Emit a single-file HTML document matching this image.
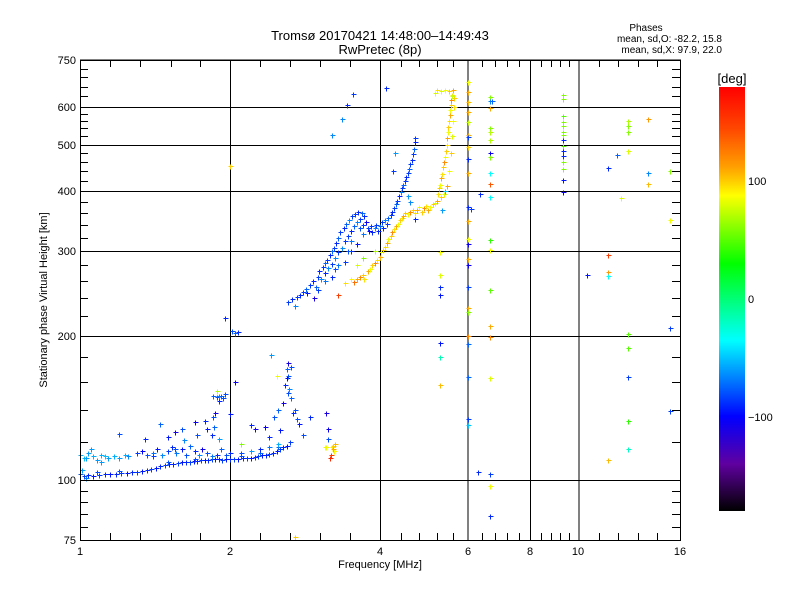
<!DOCTYPE html>
<html><head><meta charset="utf-8">
<style>
html,body{margin:0;padding:0;background:#fff;}
svg{display:block;font-family:"Liberation Sans",sans-serif;}
text{fill:#000;}
</style></head>
<body>
<svg id="chart" width="800" height="600" viewBox="0 0 800 600" xmlns="http://www.w3.org/2000/svg" shape-rendering="crispEdges">
<rect width="800" height="600" fill="#fff"/>
<text x="380" y="40" font-size="13" text-anchor="middle">Tromsø 20170421 14:48:00–14:49:43</text>
<text x="380" y="54" font-size="13" text-anchor="middle">RwPretec (8p)</text>
<text x="646" y="31" font-size="10" text-anchor="middle">Phases</text>
<text x="722" y="42" font-size="10" text-anchor="end">mean, sd,O: -82.2, 15.8</text>
<text x="722" y="53" font-size="10" text-anchor="end">mean, sd,X:  97.9, 22.0</text>
<text x="380" y="568" font-size="11" text-anchor="middle">Frequency [MHz]</text>
<text x="47" y="300" font-size="11" text-anchor="middle" transform="rotate(-90 47 300)">Stationary phase Virtual Height [km]</text>
<text x="732" y="83" font-size="13" text-anchor="middle">[deg]</text>
<g id="grid"></g>
<g id="marks"></g>
<g id="axes"></g>
<g id="cbar"></g>
</svg>
<script>
// ---- data: [frequency MHz, virtual height km, phase deg] ----
const eLow = [[1.00,103,-75],[1.02,102,-85],[1.04,102.5,-90],[1.06,102,-95],[1.09,102.5,-85],[1.12,103,-90],[1.15,103,-95],[1.18,103,-90],[1.21,103.5,-85],[1.24,103.5,-95],[1.27,104,-90],[1.30,104,-85],[1.33,104.5,-95],[1.36,105,-90],[1.39,105.5,-85],[1.42,106,-95],[1.45,107,-90],[1.48,107.5,-85],[1.51,108,-95],[1.54,108,-90],[1.57,108.5,-85],[1.60,109,-95],[1.63,109,-90],[1.66,109,-85],[1.69,109.5,-95],[1.72,109.5,-90],[1.75,110,-85],[1.78,110,-95],[1.81,110,-90],[1.84,110.5,-85],[1.87,110.5,-95],[1.90,110.5,-90],[1.93,110,-85],[1.96,110.5,-95],[2.00,110.5,-90],[2.04,110.5,-85],[2.08,110.5,-95],[2.12,111,-90],[2.16,111,-85],[2.20,111,-95],[2.24,111.5,-90],[2.28,112,-85],[2.32,112.5,-95],[2.36,113,-90],[2.40,113.5,-85],[2.44,114,-90],[2.48,115,-95],[2.52,116,-85],[2.56,117,-90],[2.60,118,-95],[2.64,120,-85],[1.01,105,-60],[1.03,101,-70],[1.08,104,-80],[1.20,104.5,-80],[1.50,109,-80],[1.70,110.5,-80],[2.10,112,-80],[2.30,114,-75],[2.50,117,-75]];
const eUp = [[1.00,113,-55],[1.02,111,-50],[1.04,114,-60],[1.06,112,-55],[1.08,110,-60],[1.10,113,-55],[1.12,112,-50],[1.14,111,-60],[1.17,112,-55],[1.20,111,-60],[1.23,113,-55],[1.30,114,-85],[1.33,115,-100],[1.36,113,-80],[1.40,114,-70],[1.43,116,-95],[1.46,113,-65],[1.50,115,-85],[1.53,117,-90],[1.56,114,-70],[1.60,116,-95],[1.63,113,-80],[1.66,118,-75],[1.70,115,-90],[1.73,113,-65],[1.76,116,-105],[1.80,114,-80],[1.84,112,-70],[1.88,113,-90],[1.92,116,-75],[1.96,113,-80],[2.00,114,-90],[2.10,114,-80],[2.20,115,-60],[2.30,116,-90],[2.40,117,-70],[2.50,119,-55],[1.05,116,-60],[1.10,109,-60],[1.25,112,-65],[1.40,112,-85],[1.55,116,-80]];
const eScatter = [[1.03,111,-60],[1.20,125,-80],[1.35,122,-90],[1.45,131,-75],[1.50,123,-95],[1.55,126,-110],[1.60,128,-80],[1.62,121,-65],[1.70,132,-105],[1.72,124,-80],[1.78,133,-90],[1.80,128,-95],[1.85,135,-80],[1.87,138,-110],[1.86,129,-75],[1.84,124,-90],[1.90,122,-60],[1.88,153,70],[1.85,150,-75],[1.88,149,-80],[1.90,150,-65],[1.92,150,-75],[1.94,148,-80],[1.95,151,-80],[1.90,146,-90],[2.05,160,-105],[2.00,137,-95],[2.10,119,60],[2.20,130,-90],[2.25,128,-110],[2.35,129,-105],[2.40,123,-90],[2.45,135,-80],[2.50,140,-75],[2.52,127,-95],[2.55,145,-110],[2.58,158,-90],[2.60,163,-105],[2.62,165,-80],[2.60,170,-75],[2.62,175,-110],[2.65,172,-80],[2.62,152,-80],[2.65,148,-75],[2.63,155,-65],[2.70,140,-80],[2.68,138,-90],[2.72,134,-80],[2.75,131,-95],[2.80,124,-80],[2.48,165,85],[2.42,182,-60],[2.90,135,-90],[3.15,122,-80],[3.12,138,-110],[3.15,128,-105],[3.10,117,90],[3.12,117,85],[3.20,117,95],[3.22,118,100],[3.24,115,90],[3.19,113,150],[3.22,116,110],[3.25,119,105],[3.17,111,160],[2.02,204,-80],[2.05,202,-75],[2.08,203,-90],[1.95,218,-90],[2.00,450,100]];
const fBlue = [[2.62,235,-85],[2.66,238,-90],[2.70,230,-65],[2.72,241,-85],[2.76,243,-90],[2.80,247,-85],[2.84,250,-75],[2.86,245,-95],[2.90,255,-85],[2.94,260,-90],[2.97,252,-75],[3.00,265,-85],[3.02,272,-90],[3.05,262,-65],[3.07,278,-85],[3.10,283,-75],[3.10,270,-90],[3.13,288,-85],[3.15,276,-65],[3.17,295,-90],[3.20,282,-85],[3.20,300,-75],[3.23,305,-85],[3.25,290,-65],[3.27,312,-90],[3.30,298,-85],[3.30,320,-75],[3.33,328,-85],[3.35,305,-65],[3.38,335,-90],[3.40,315,-85],[3.42,342,-75],[3.45,322,-85],[3.47,348,-65],[3.50,330,-90],[3.52,355,-85],[3.55,338,-75],[3.57,358,-85],[3.60,345,-65],[3.62,362,-90],[3.65,350,-85],[3.68,360,-75],[3.70,340,-85],[3.72,355,-90],[3.75,345,-105],[3.78,335,-85],[3.80,330,-75],[3.83,338,-85],[3.86,328,-90],[3.90,335,-65],[3.93,340,-85],[3.97,330,-90],[4.00,338,-75],[4.03,345,-85],[4.06,335,-90],[4.10,348,-65],[4.13,342,-85],[4.16,352,-75],[4.20,356,-85],[4.23,362,-90],[4.26,368,-85],[4.30,375,-75],[4.33,382,-85],[4.36,390,-90],[4.40,398,-65],[4.42,405,-85],[4.45,412,-75],[4.48,420,-85],[4.52,428,-90],[4.55,436,-85],[4.58,445,-75],[4.60,455,-85],[4.63,465,-90],[4.66,478,-85],[4.68,490,-75],[4.70,505,-90],[4.60,380,-65],[4.55,390,-60],[3.20,524,-65],[3.36,566,-65],[3.43,603,-90],[3.53,636,-85],[4.12,657,-90],[4.25,441,-85],[4.28,480,-60],[4.70,515,-85],[3.00,249,-85],[3.20,265,-90],[3.40,285,-85],[3.60,310,-95],[3.80,330,-105],[2.95,240,-110],[3.50,300,-90],[3.10,260,-70],[3.30,280,-70],[3.50,315,-70],[3.70,325,-70],[3.25,275,-80],[3.45,300,-80],[3.65,335,-80]];
const fOrange = [[3.55,258,130],[3.60,262,110],[3.65,265,120],[3.70,268,100],[3.72,262,95],[3.78,272,110],[3.82,275,85],[3.86,280,100],[3.90,283,120],[3.95,288,95],[4.00,292,110],[4.02,298,85],[4.06,302,100],[4.10,306,95],[4.13,312,110],[4.16,318,85],[4.20,322,100],[4.23,328,120],[4.27,333,95],[4.30,338,110],[4.35,342,85],[4.38,348,100],[4.42,352,95],[4.45,355,110],[4.50,360,100],[4.55,358,85],[4.60,362,120],[4.65,365,100],[4.70,360,95],[4.75,366,110],[4.80,370,85],[4.85,362,100],[4.90,368,120],[4.95,372,95],[5.00,365,110],[5.05,370,85],[5.10,375,100],[5.15,378,80],[5.20,382,110],[5.22,395,95],[5.25,405,100],[5.28,412,85],[5.30,425,110],[5.33,435,95],[5.35,448,100],[5.37,460,120],[5.40,472,85],[5.42,485,100],[5.44,500,95],[5.46,515,110],[5.47,530,85],[5.48,545,100],[5.50,560,95],[5.52,575,110],[5.53,590,85],[5.55,605,100],[5.56,620,120],[5.57,635,95],[5.50,645,100],[5.40,650,85],[5.30,645,80],[5.20,648,95],[5.15,640,80],[5.60,650,110],[5.62,625,100],[5.63,600,95],[5.60,560,85],[5.58,520,80],[5.55,480,100],[5.50,440,85],[5.45,410,110],[5.38,395,80],[5.30,388,100],[5.58,630,75],[5.40,400,-50],[5.32,365,-60],[4.70,350,-90],[3.50,262,90],[3.40,257,95],[3.30,243,150],[3.70,290,60],[3.60,280,80],[3.90,300,70]];
const columns = [[6,675,85],[6,643,110],[6,613,105],[6,584,110],[6,557,75],[6,523,110],[6,518,-85],[6,494,100],[6,466,-90],[6,436,110],[6,370,-90],[6,346,110],[6,318,85],[6,310,-105],[6,289,110],[6,280,-105],[6,252,-85],[6,228,110],[6,224,60],[6,200,120],[6,192,-75],[6,164,-75],[6,134,-85],[6,130,-50],
[5.28,298,85],[5.28,268,80],[5.28,252,-90],[5.28,243,-95],[5.28,193,-95],[5.28,180,-15],[5.28,158,105],
[6.64,628,60],[6.64,615,-65],[6.64,595,110],[6.64,542,60],[6.64,532,70],[6.64,512,70],[6.64,480,-105],[6.64,470,60],[6.64,436,-35],[6.64,413,140],[6.64,389,-35],[6.64,316,40],[6.64,302,85],[6.64,249,50],[6.64,209,110],[6.64,199,120],[6.64,163,80],[6.64,103,-85],[6.64,97,85],[6.64,84,-90],[6.3,104,-90],
[9.3,634,60],[9.3,621,60],[9.3,574,50],[9.3,557,60],[9.3,546,60],[9.3,530,60],[9.3,523,60],[9.3,512,-90],[9.3,497,50],[9.3,485,-90],[9.3,473,-90],[9.3,459,60],[9.3,445,60],[9.3,422,-95],[9.3,398,-105],
[12.6,559,70],[12.6,546,60],[12.6,532,60],[12.6,485,80],[12.6,201,50],[12.6,188,50],[12.6,164,-85],[12.6,133,40],[12.6,116,-20],
[11.45,295,150],[11.45,271,115],[11.45,266,-35],[11.45,110,105],
[13.8,566,115],[11.96,476,-75],[11.45,446,-90],[13.8,436,-65],[13.8,413,105],[15.3,440,60],[12.2,386,80],[15.3,348,85],[6.35,395,-90],[6.1,367,-85],[6.7,615,-75],[10.4,268,-95],[15.3,207,-85],[15.3,139,-85],[2.7,76,100]];
// colormap stops (phase deg -> rgb)
const cmapPhase = [-180,-140,-100,-35,30,88,100,112,145,180];
const cmapRGB = [[0,0,0],[96,0,160],[0,0,255],[0,255,255],[0,255,0],[255,255,0],[255,205,0],[255,160,0],[255,70,0],[255,0,0]];
const yMajor = [750,600,500,400,300,200,100,75];
const xMajor = [1,2,4,6,8,10,16];

// ---- scales ----
const X0=80,X1=680,Y0=60,Y1=540;
function xs(f){return X0+150*Math.log2(f);}
function ys(h){return Y1-480*Math.log10(h/75);}
function color(p){
  if(p<=cmapPhase[0])return 'rgb('+cmapRGB[0]+')';
  for(let i=1;i<cmapPhase.length;i++){
    if(p<=cmapPhase[i]){const t=(p-cmapPhase[i-1])/(cmapPhase[i]-cmapPhase[i-1]);
      const a=cmapRGB[i-1],b=cmapRGB[i];
      return 'rgb('+a.map((v,k)=>Math.round(v+(b[k]-v)*t)).join(',')+')';}
  }
  return 'rgb('+cmapRGB[cmapRGB.length-1]+')';
}
const NS='http://www.w3.org/2000/svg';
function mk(tag,attrs,parent){const e=document.createElementNS(NS,tag);for(const k in attrs)e.setAttribute(k,attrs[k]);parent.appendChild(e);return e;}
const grid=document.getElementById('grid'),axes=document.getElementById('axes'),marks=document.getElementById('marks'),cbar=document.getElementById('cbar');

// grid lines
[2,4,6,8,10].forEach(f=>{const l=mk('line',{x1:xs(f)+0.5,x2:xs(f)+0.5,y1:Y0,y2:Y1,stroke:'#000','stroke-width':1},grid);

});
[100,200,300,400,500,600].forEach(h=>{const y=Math.round(ys(h))+0.5;const l=mk('line',{x1:X0,x2:X1,y1:y,y2:y,stroke:'#000','stroke-width':1},grid);

});

// points
[eLow,eUp,eScatter,fBlue,fOrange,columns].forEach(series=>{
  series.forEach(d=>{
    const x=Math.round(xs(d[0]))+0.5,y=Math.round(ys(d[1]))+0.5;
    if(x<X0||x>X1||y<Y0||y>Y1)return;
    const c=color(d[2]);
    const p=mk('path',{d:'M'+(x-2)+' '+y+'H'+(x+3)+'M'+x+' '+(y-2)+'V'+(y+3),stroke:c,'stroke-width':1,fill:'none'},marks);
    
    
  });
});

// frame
const fr=mk('rect',{x:X0+0.5,y:Y0+0.5,width:X1-X0,height:Y1-Y0,fill:'none',stroke:'#000','stroke-width':1},axes);


mk('line',{x1:X0,x2:X1+1,y1:Y0,y2:Y0,stroke:'#000','stroke-width':1},axes);
// y ticks
const yMinor=[];
for(let h=80;h<100;h+=5)yMinor.push(h);
for(let h=120;h<600;h+=20)if(h%100)yMinor.push(h);
[630,660,690,720].forEach(h=>yMinor.push(h));
yMinor.forEach(h=>{const y=Math.round(ys(h))+0.5;
  mk('line',{x1:X0,x2:X0+8,y1:y,y2:y,stroke:'#000'},axes);
  mk('line',{x1:X1-8,x2:X1,y1:y,y2:y,stroke:'#000'},axes);});
yMajor.forEach(h=>{const y=Math.round(ys(h));
  const t=mk('text',{x:76,y:y+4,'font-size':11,'text-anchor':'end'},axes);t.textContent=h;
  
  
  mk('line',{x1:X0,x2:X0+10,y1:y+0.5,y2:y+0.5,stroke:'#000'},axes);
  mk('line',{x1:X1-10,x2:X1,y1:y+0.5,y2:y+0.5,stroke:'#000'},axes);});
// x ticks
const xMinor=[1.15,1.32,1.52,1.74,2.3,2.64,3.03,3.48,4.4,4.8,5.2,5.6,6.4,6.8,7.2,7.6,8.4,8.8,9.2,9.6,11,12,13.2,14.4];
xMinor.forEach(f=>{const x=Math.round(xs(f))+0.5;
  mk('line',{x1:x,x2:x,y1:Y0,y2:Y0+7,stroke:'#000'},axes);
  mk('line',{x1:x,x2:x,y1:Y1-7,y2:Y1,stroke:'#000'},axes);});
xMajor.forEach(f=>{const x=Math.round(xs(f));
  const t=mk('text',{x:x,y:555,'font-size':11,'text-anchor':'middle'},axes);t.textContent=f;
  
  });

// colorbar
const defs=mk('defs',{},cbar);
const g=mk('linearGradient',{id:'cg',x1:0,y1:1,x2:0,y2:0},defs);
cmapPhase.forEach((p,i)=>mk('stop',{offset:((p+180)/360),'stop-color':'rgb('+cmapRGB[i]+')'},g));
const cr=mk('rect',{x:719,y:87,width:26,height:424,fill:'url(#cg)'},cbar);


function cy(p){return 511-(p+180)/360*424;}
[100,0,-100].forEach(p=>{const y=cy(p);
  const t=mk('text',{x:748,y:y+4,'font-size':11},cbar);t.textContent=(p<0?'\u2212'+(-p):p);
  
  });
</script>
</body></html>
